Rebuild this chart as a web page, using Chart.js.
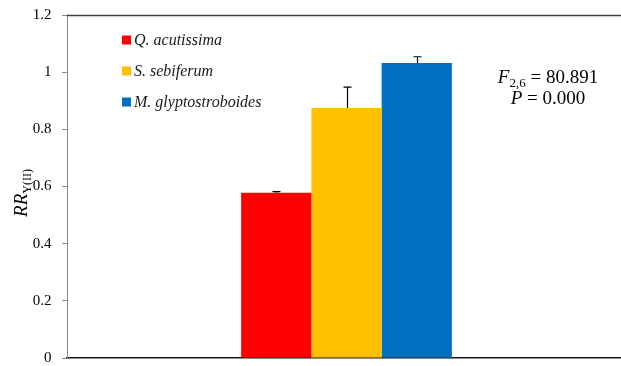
<!DOCTYPE html>
<html>
<head>
<meta charset="utf-8">
<script src="https://cdn.jsdelivr.net/npm/chart.js@4.4.1/dist/chart.umd.min.js"></script>
<style>
  html, body { margin: 0; padding: 0; background: #fff; overflow: hidden; }
  #wrap { width: 621px; height: 366px; overflow: hidden; }
</style>
</head>
<body>
<div id="wrap"><canvas id="c" width="626" height="366"></canvas></div>
<script>
// Species compared in the single group
const species = ['Q. acutissima', 'S. sebiferum', 'M. glyptostroboides'];
// Mean RR_Y(II) per species
const means = [0.578, 0.875, 1.032];
// Upper error (SE) per species
const errors = [0.004, 0.073, 0.022];
const colors = ['#ff0000', '#ffc000', '#0070c0'];
const yTicks = [0, 0.2, 0.4, 0.6, 0.8, 1, 1.2];
const statLine1 = ['F', '2,6', ' = 80.891'];
const statLine2 = ['P', ' = 0.000'];

const SERIF = '"Liberation Serif", "Times New Roman", serif';

const datasets = species.map((name, i) => ({
  label: name,
  data: [means[i]],
  err: [errors[i]],
  backgroundColor: colors[i],
  borderWidth: 0,
  barPercentage: 1,
  categoryPercentage: 0.377
}));

// Error bars (upper only) drawn from the data through the y scale
const errorBars = {
  id: 'errorBars',
  afterDatasetsDraw(chart) {
    const ctx = chart.ctx;
    const y = chart.scales.y;
    ctx.save();
    ctx.strokeStyle = '#000';
    ctx.lineWidth = 1.2;
    chart.data.datasets.forEach((ds, di) => {
      const meta = chart.getDatasetMeta(di);
      meta.data.forEach((bar, j) => {
        const v = ds.data[j], e = ds.err[j];
        const x = Math.round(bar.x) + 0.5;
        const yTop = y.getPixelForValue(v + e);
        const yBase = y.getPixelForValue(v);
        ctx.beginPath();
        ctx.moveTo(x, yBase);
        ctx.lineTo(x, yTop);
        ctx.moveTo(x - 4, yTop);
        ctx.lineTo(x + 4, yTop);
        ctx.stroke();
      });
    });
    ctx.restore();
  }
};

function drawRuns(ctx, runs, cx, baseline) {
  // runs: [text, font, dy]
  let total = 0;
  runs.forEach(r => { ctx.font = r[1]; total += ctx.measureText(r[0]).width; });
  let x = cx - total / 2;
  runs.forEach(r => {
    ctx.font = r[1];
    ctx.fillText(r[0], x, baseline + r[2]);
    x += ctx.measureText(r[0]).width;
  });
}

// Legend, axis title, statistics text and top frame line
const decorations = {
  id: 'decorations',
  afterDraw(chart) {
    const ctx = chart.ctx;
    const a = chart.chartArea;
    ctx.save();

    // top frame line
    ctx.strokeStyle = '#404040';
    ctx.lineWidth = 1.5;
    ctx.beginPath();
    ctx.moveTo(a.left, a.top + 0.5);
    ctx.lineTo(a.right, a.top + 0.5);
    ctx.stroke();

    // legend
    ctx.textBaseline = 'middle';
    ctx.textAlign = 'left';
    ctx.font = 'italic 16px ' + SERIF;
    chart.data.datasets.forEach((ds, i) => {
      const cy = 40 + i * 31;
      ctx.fillStyle = ds.backgroundColor;
      ctx.fillRect(122, cy - 4.5, 9, 9);
      ctx.fillStyle = '#1a1a1a';
      ctx.fillText(ds.label, 134, cy + 1);
    });

    // y-axis title: RR with subscript Y(II)
    ctx.save();
    ctx.translate(27, 193);
    ctx.rotate(-Math.PI / 2);
    ctx.textBaseline = 'alphabetic';
    ctx.fillStyle = '#000';
    drawRuns(ctx, [
      ['RR', 'italic 19px ' + SERIF, 0],
      ['Y(II)', '12px ' + SERIF, 4]
    ], 0, 0);
    ctx.restore();

    // statistics
    ctx.textBaseline = 'alphabetic';
    ctx.fillStyle = '#000';
    drawRuns(ctx, [
      [statLine1[0], 'italic 19px ' + SERIF, 0],
      [statLine1[1], '13px ' + SERIF, 4],
      [statLine1[2], '19px ' + SERIF, 0]
    ], 548, 83);
    drawRuns(ctx, [
      [statLine2[0], 'italic 19px ' + SERIF, 0],
      [statLine2[1], '19px ' + SERIF, 0]
    ], 548, 104);

    ctx.restore();
  }
};

new Chart(document.getElementById('c'), {
  type: 'bar',
  data: { labels: [''], datasets },
  options: {
    responsive: false,
    animation: false,
    devicePixelRatio: 1,
    layout: { padding: { top: 15, right: 0, bottom: 0, left: 0 } },
    plugins: { legend: { display: false }, tooltip: { enabled: false } },
    scales: {
      x: {
        grid: { display: false, drawTicks: false },
        border: { display: true, color: '#1a1a1a', width: 1.5 },
        ticks: { display: false },
        afterFit(s) { s.height = 8; }
      },
      y: {
        min: 0,
        max: 1.2,
        afterBuildTicks(s) { s.ticks = yTicks.map(v => ({ value: v })); },
        grid: { drawOnChartArea: false, drawTicks: true, tickLength: 5, color: '#888' },
        border: { display: true, color: '#888', width: 1 },
        ticks: {
          padding: 3,
          color: '#000',
          font: { family: SERIF, size: 15, lineHeight: 0.6 },
          callback: v => String(Math.round(v * 10) / 10) + '  '
        },
        afterFit(s) { s.width = 67; }
      }
    }
  },
  plugins: [errorBars, decorations]
});
</script>
</body>
</html>
